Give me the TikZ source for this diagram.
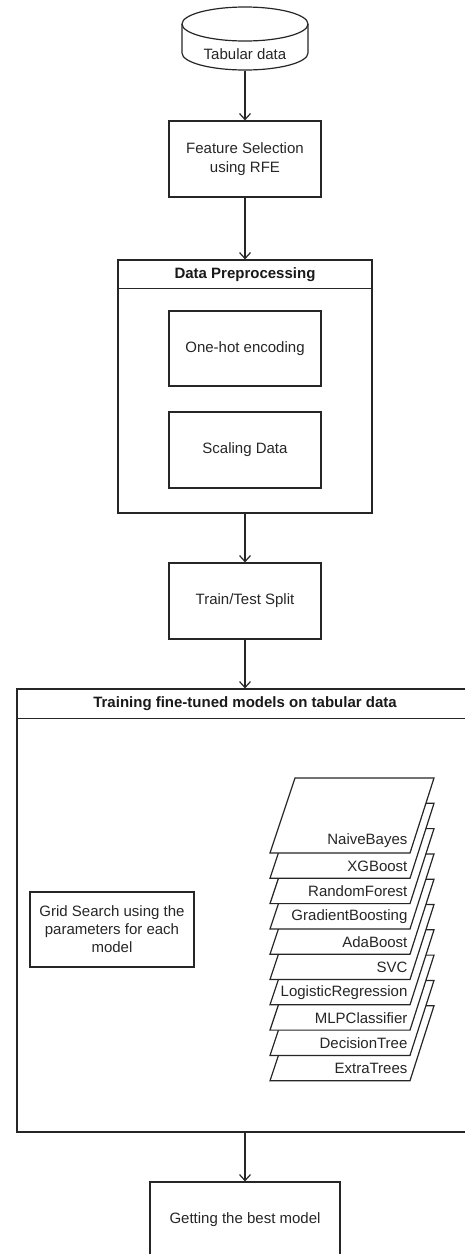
\documentclass[tikz,border=0pt]{standalone}
\usepackage{fontspec}
\setmainfont{Liberation Sans}
\usetikzlibrary{arrows.meta,calc}
\begin{document}
\begin{tikzpicture}[x=1pt,y=-1pt,
  line width=1.2pt, draw=black!85,
  txt/.style={font=\fontsize{15}{19}\selectfont, text=black!85},
  ttl/.style={font=\fontsize{15}{20}\selectfont\bfseries, text=black!90},
  box/.style={draw, txt, minimum width=152pt, minimum height=76pt, align=center, inner sep=0pt},
  cont/.style={draw, inner sep=0pt},
  arr/.style={draw, -{Straight Barb[length=6pt,width=11pt,line width=1.2pt]}},
  sheet/.style={draw, fill=white, line join=miter}
]
\useasboundingbox (0,0) rectangle (465,1254);
\begin{scope}
\clip (0,0) rectangle (465,1254);
% cylinder
\node[minimum width=126pt, minimum height=63pt, inner sep=0pt] (tab) at (245,38.5) {};
\draw (182,24) -- (182,53) arc[start angle=180, end angle=360, x radius=63, y radius=-17] -- (308,24);
\draw (245,24) ellipse[x radius=63, y radius=17];
\node[txt] (tabt) at (245,54) {Tabular data};
% boxes
\node[box] (fs) at (245,159) {Feature Selection\\using RFE};
\node[cont, minimum width=254pt, minimum height=253pt] (dp) at (245,386.5) {};
\draw (dp.north west) ++(0,29) coordinate (dph) -- (dph -| dp.east);
\node[ttl] (dpt) at (245,275) {Data Preprocessing};
\node[box, minimum height=75pt] (oh) at (245,348.5) {One-hot encoding};
\node[box] (sc) at (245,450) {Scaling Data};
\node[box] (tt) at (245,601) {Train/Test Split};
\node[cont, minimum width=456pt, minimum height=443pt] (tr) at (245,910.5) {};
\draw (tr.north west) ++(0,30) coordinate (trh) -- (trh -| tr.east);
\node[ttl] (trt) at (245,704) {Training fine-tuned models on tabular data};
\node[draw, txt, font=\fontsize{15}{18}\selectfont, align=center, minimum width=164pt, minimum height=75pt, inner sep=0pt] (gs) at (112,929.5) {Grid Search using the\\parameters for each\\model};
\node[box, minimum width=190pt] (gb) at (245,1220) {Getting the best model};
% stack of models
\foreach \n [count=\i from 0] in {NaiveBayes,XGBoost,RandomForest,GradientBoosting,AdaBoost,SVC,LogisticRegression,MLPClassifier,DecisionTree,ExtraTrees}{
  \coordinate (b\i) at (0,{853+25.3*\i});
}
\foreach \i in {9,...,0}{
  \path[sheet] ($(b\i)+(270,0)$) -- ($(b\i)+(410,0)$) -- ($(b\i)+(434,-75)$) -- ($(b\i)+(295,-75)$) -- cycle;
}
\foreach \n [count=\i from 0] in {NaiveBayes,XGBoost,RandomForest,GradientBoosting,AdaBoost,SVC,LogisticRegression,MLPClassifier,DecisionTree,ExtraTrees}{
  \node[txt, anchor=east, inner sep=0pt] (m\i) at ($(b\i)+(408,-12)$) {\n};
}
% arrows
\draw[arr] (tab.south) -- (fs.north);
\draw[arr] (fs.south) -- (dp.north);
\draw[arr] (dp.south) -- (tt.north);
\draw[arr] (tt.south) -- (tr.north);
\draw[arr] (tr.south) -- (gb.north);
\end{scope}
\end{tikzpicture}
\end{document}
